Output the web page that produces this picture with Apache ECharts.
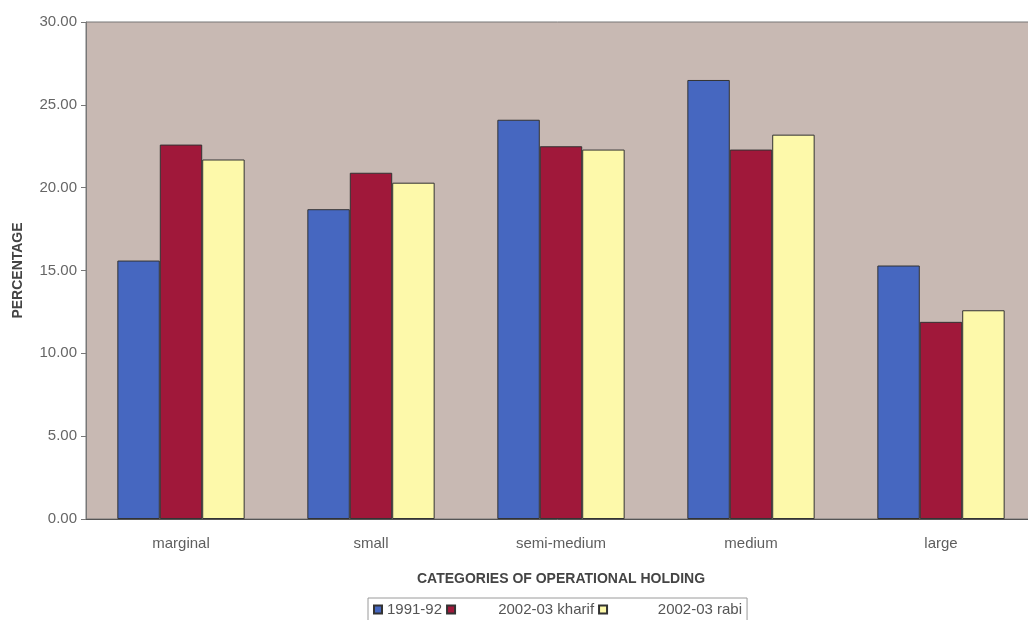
<!DOCTYPE html>
<html>
<head>
<meta charset="utf-8">
<title>Operational holdings</title>
<script src="https://cdn.jsdelivr.net/npm/echarts@6/dist/echarts.min.js"></script>
<style>
  html, body { margin: 0; padding: 0; background: #ffffff; }
  #chart { width: 1028px; height: 620px; }
</style>
</head>
<body>
<div id="chart"></div>
<script>
// Share (%) of each holding-size category
const categories = ['marginal', 'small', 'semi-medium', 'medium', 'large'];
const seriesNames = ['1991-92', '2002-03 kharif', '2002-03 rabi'];
const values1991 = [15.6, 18.7, 24.1, 26.5, 15.3];
const valuesKharif = [22.6, 20.9, 22.5, 22.3, 11.9];
const valuesRabi = [21.7, 20.3, 22.3, 23.2, 12.6];
const yTicks = [0, 5, 10, 15, 20, 25, 30];

const FONT = "'Liberation Sans', Arial, sans-serif";
const colors = ['#4667c0', '#a0183a', '#fdf9aa'];
const seriesData = [values1991, valuesKharif, valuesRabi];

const chart = echarts.init(document.getElementById('chart'), null, { renderer: 'canvas' });

const option = {
  animation: false,
  textStyle: { fontFamily: FONT },
  grid: {
    left: 86, top: 22, width: 950, bottom: 101,
    outerBoundsMode: 'none',
    containLabel: false,
    show: true, backgroundColor: '#c8b9b3', borderColor: '#777777', borderWidth: 1
  },
  legend: {
    left: 368, top: 598,
    padding: [4, 5, 9, 5],
    borderColor: '#9a9a9a', borderWidth: 1,
    icon: 'rect', itemWidth: 8, itemHeight: 8, itemGap: 4,
    data: seriesNames,
    formatter: function (name) {
      const key = ['a', 'b', 'c'][seriesNames.indexOf(name)];
      return '{' + key + '|' + name + '}';
    },
    textStyle: {
      fontFamily: FONT, fontSize: 15, color: '#555555',
      rich: {
        a: { width: 68, align: 'left', fontSize: 15, color: '#555555', fontFamily: FONT },
        b: { width: 134, align: 'right', fontSize: 15, color: '#555555', fontFamily: FONT },
        c: { width: 130, align: 'right', fontSize: 15, color: '#555555', fontFamily: FONT }
      }
    }
  },
  xAxis: {
    type: 'category',
    data: categories,
    name: 'CATEGORIES OF OPERATIONAL HOLDING',
    nameLocation: 'middle',
    nameGap: 53,
    nameTextStyle: { fontFamily: FONT, fontSize: 14, fontWeight: 'bold', color: '#444444' },
    axisLine: { show: true, lineStyle: { color: '#555555', width: 1 } },
    axisTick: { show: false },
    axisLabel: { margin: 17, fontFamily: FONT, fontSize: 15, color: '#5e5e5e' },
    splitLine: { show: false }
  },
  yAxis: {
    type: 'value',
    min: yTicks[0], max: yTicks[yTicks.length - 1], interval: yTicks[1] - yTicks[0],
    name: 'PERCENTAGE',
    nameLocation: 'middle',
    nameGap: 61,
    nameRotate: 90,
    nameTextStyle: { fontFamily: FONT, fontSize: 14, fontWeight: 'bold', color: '#444444' },
    axisLine: { show: true, lineStyle: { color: '#777777', width: 1 } },
    axisTick: { show: true, inside: false, length: 5, lineStyle: { color: '#777777' } },
    axisLabel: {
      margin: 9, fontFamily: FONT, fontSize: 15, color: '#666666',
      formatter: function (v) { return v.toFixed(2); }
    },
    splitLine: { show: false }
  },
  series: seriesNames.map(function (name, i) {
    return {
      name: name,
      type: 'bar',
      data: seriesData[i],
      barGap: '0%',
      barCategoryGap: '33%',
      itemStyle: { color: colors[i], borderColor: '#333333', borderWidth: 1 }
    };
  })
};

chart.setOption(option);
</script>
</body>
</html>
